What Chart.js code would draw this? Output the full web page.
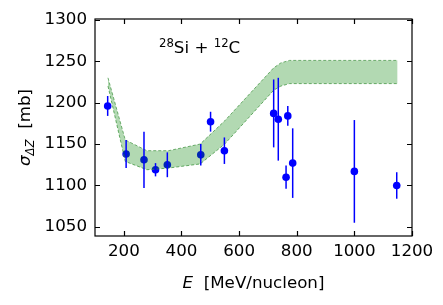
<!DOCTYPE html>
<html>
<head>
<meta charset="utf-8">
<script src="https://cdn.jsdelivr.net/npm/chart.js@4.4.0/dist/chart.umd.min.js"></script>
<style>
  html, body { margin: 0; padding: 0; background: #fff; }
  #wrap { width: 443px; height: 305px; }
</style>
</head>
<body>
<div id="wrap"><canvas id="chart" width="443" height="305"></canvas></div>
<script>
// measured cross sections
const energy = [144, 208, 270, 310, 351, 467, 501, 549, 720, 736, 769, 763, 786, 1000, 1147];
const sigma = [1196, 1138, 1131, 1119, 1125, 1137, 1177, 1142, 1187, 1180, 1184, 1110, 1127, 1117, 1100];
const sigmaErr = [12, 17, 34, 8, 15, 13, 12, 16, 41, 50, 12, 14, 42, 62, 16];

// calculation band
const bandE = [145, 205, 280, 355, 465, 550, 720, 745, 775, 1150];
const bandHigh = [1230, 1155, 1142, 1142, 1150, 1178, 1242, 1248, 1251, 1251];
const bandLow = [1220, 1129, 1119, 1121, 1126, 1150, 1215, 1220, 1223, 1223];

const xTicks = [200, 400, 600, 800, 1000, 1200];
const yTicks = [1050, 1100, 1150, 1200, 1250, 1300];

const FONT = "'DejaVu Sans', sans-serif";
const FS = 16.7;

// error bars, frame, inward ticks and the mixed-style texts
const extras = {
  id: "extras",
  afterDatasetsDraw(chart) {
    const ctx = chart.ctx;
    const xs = chart.scales.x, ys = chart.scales.y;
    ctx.save();
    ctx.strokeStyle = "#0000ff";
    ctx.lineWidth = 1.5;
    energy.forEach((e, i) => {
      const px = xs.getPixelForValue(e);
      ctx.beginPath();
      ctx.moveTo(px, ys.getPixelForValue(sigma[i] - sigmaErr[i]));
      ctx.lineTo(px, ys.getPixelForValue(sigma[i] + sigmaErr[i]));
      ctx.stroke();
    });
    ctx.restore();
  },
  afterDraw(chart) {
    const ctx = chart.ctx;
    const a = chart.chartArea;
    const xs = chart.scales.x, ys = chart.scales.y;
    ctx.save();
    ctx.strokeStyle = "#000";
    ctx.lineWidth = 1.2;
    ctx.strokeRect(a.left, a.top, a.right - a.left, a.bottom - a.top);
    const tl = 5;
    ctx.beginPath();
    xTicks.forEach(v => {
      const px = Math.round(xs.getPixelForValue(v)) + 0.5;
      ctx.moveTo(px, a.bottom); ctx.lineTo(px, a.bottom - tl);
      ctx.moveTo(px, a.top); ctx.lineTo(px, a.top + tl);
    });
    yTicks.forEach(v => {
      const py = Math.round(ys.getPixelForValue(v)) + 0.5;
      ctx.moveTo(a.left, py); ctx.lineTo(a.left + tl, py);
      ctx.moveTo(a.right, py); ctx.lineTo(a.right - tl, py);
    });
    ctx.stroke();

    ctx.fillStyle = "#000";
    ctx.textBaseline = "alphabetic";
    ctx.textAlign = "left";

    // x title: E  [MeV/nucleon]
    const it = "italic " + FS + "px " + FONT;
    const rg = FS + "px " + FONT;
    ctx.font = it; const wE = ctx.measureText("E").width;
    ctx.font = rg; const wRest = ctx.measureText("  [MeV/nucleon]").width;
    let x0 = (a.left + a.right) / 2 - (wE + wRest) / 2;
    const by = 288;
    ctx.font = it; ctx.fillText("E", x0, by);
    ctx.font = rg; ctx.fillText("  [MeV/nucleon]", x0 + wE, by);

    // y title: sigma_DeltaZ  [mb]
    ctx.save();
    ctx.translate(30, (a.top + a.bottom) / 2);
    ctx.rotate(-Math.PI / 2);
    const sub = "italic " + (FS * 0.7) + "px " + FONT;
    ctx.font = it; const wS = ctx.measureText("σ").width;
    ctx.font = sub; const wSub = ctx.measureText("ΔZ").width;
    ctx.font = rg; const wMb = ctx.measureText("  [mb]").width;
    let yx = -(wS + wSub + wMb) / 2;
    ctx.font = it; ctx.fillText("σ", yx, 0);
    ctx.font = sub; ctx.fillText("ΔZ", yx + wS, 3.5);
    ctx.font = rg; ctx.fillText("  [mb]", yx + wS + wSub, 0);
    ctx.restore();

    // annotation: 28Si + 12C
    const sup = (FS * 0.7) + "px " + FONT;
    let ax = 159;
    const ay = 53;
    ctx.font = sup; ctx.fillText("28", ax, ay - 6.5); ax += ctx.measureText("28").width;
    ctx.font = rg; ctx.fillText("Si + ", ax, ay); ax += ctx.measureText("Si + ").width;
    ctx.font = sup; ctx.fillText("12", ax, ay - 6.5); ax += ctx.measureText("12").width;
    ctx.font = rg; ctx.fillText("C", ax, ay);
    ctx.restore();
  }
};

const pts = (xsArr, ysArr) => xsArr.map((v, i) => ({ x: v, y: ysArr[i] }));

new Chart(document.getElementById("chart"), {
  type: "scatter",
  data: {
    datasets: [
      {
        data: pts(bandE, bandHigh),
        showLine: true,
        borderColor: "rgba(70,150,70,0.75)",
        borderWidth: 1,
        borderDash: [3, 2],
        pointRadius: 0,
        backgroundColor: "rgba(0,128,0,0.3)",
        fill: "+1",
        tension: 0,
      },
      {
        data: pts(bandE, bandLow),
        showLine: true,
        borderColor: "rgba(70,150,70,0.75)",
        borderWidth: 1,
        borderDash: [3, 2],
        pointRadius: 0,
        fill: false,
        tension: 0,
      },
      {
        data: pts(energy, sigma),
        pointRadius: 3.8,
        pointBackgroundColor: "#0000ff",
        pointBorderColor: "#0000ff",
        pointBorderWidth: 0,
      },
    ],
  },
  options: {
    responsive: false,
    animation: false,
    layout: { padding: { top: 19, right: 31, left: 0, bottom: 0 } },
    plugins: { legend: { display: false }, tooltip: { enabled: false } },
    scales: {
      x: {
        type: "linear",
        min: 100,
        max: 1200,
        afterBuildTicks: s => { s.ticks = xTicks.map(v => ({ value: v })); },
        afterFit: s => { s.height = 69; },
        grid: { display: false, drawTicks: false },
        border: { display: false },
        ticks: { color: "#000", font: { family: FONT, size: FS }, padding: 6, maxRotation: 0, callback: v => String(v) },
      },
      y: {
        type: "linear",
        min: 1039,
        max: 1301,
        afterBuildTicks: s => { s.ticks = yTicks.map(v => ({ value: v })); },
        afterFit: s => { s.width = 95; },
        grid: { display: false, drawTicks: false },
        border: { display: false },
        ticks: { color: "#000", font: { family: FONT, size: FS }, padding: 8, callback: v => String(v) },
      },
    },
  },
  plugins: [extras],
});
</script>
</body>
</html>
